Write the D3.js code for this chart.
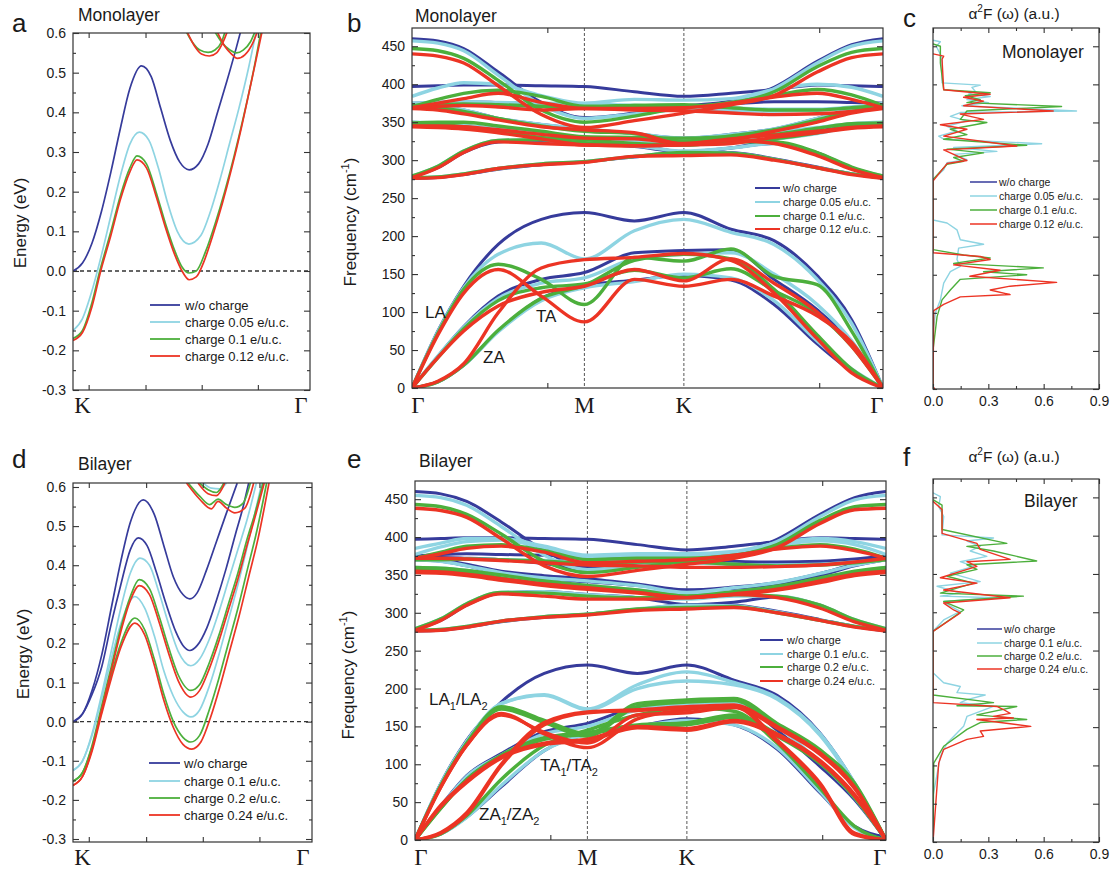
<!DOCTYPE html>
<html>
<head>
<meta charset="utf-8">
<title>Bands, phonons and a2F, monolayer and bilayer</title>
<script src="https://cdn.jsdelivr.net/npm/d3@7/dist/d3.min.js"></script>
<style>
  body { margin: 0; background: #fff; }
  text { font-family: Arial, "Liberation Sans", Helvetica, sans-serif; fill: #1a1a1a; }
  .hs { font-family: "Liberation Serif", "Times New Roman", serif; }
</style>
</head>
<body>
<svg id="fig" width="1118" height="872"></svg>
<script>

////////////////////////////////////////////////////////
// colours and legend texts
////////////////////////////////////////////////////////

var cBlue = "#363b9b", cCyan = "#8ed4e2", cGreen = "#4caf3c", cRed = "#ec3424";
var colores = [cBlue, cCyan, cGreen, cRed];

var legendMono = ["w/o charge", "charge 0.05 e/u.c.", "charge 0.1 e/u.c.", "charge 0.12 e/u.c."];
var legendBi   = ["w/o charge", "charge 0.1 e/u.c.", "charge 0.2 e/u.c.", "charge 0.24 e/u.c."];

////////////////////////////////////////////////////////
// ticks
////////////////////////////////////////////////////////

var energyTicks = [-0.3, -0.2, -0.1, 0.0, 0.1, 0.2, 0.3, 0.4, 0.5, 0.6];
var energyMinor = [-0.25, -0.15, -0.05, 0.05, 0.15, 0.25, 0.35, 0.45, 0.55];
var kTicks      = [0.066, 0.306, 0.543, 0.78];
var freqTicks   = [0, 50, 100, 150, 200, 250, 300, 350, 400, 450];
var freqMinor   = [25, 75, 125, 175, 225, 275, 325, 375, 425];
var a2fTicks    = [0, 0.3, 0.6, 0.9];
var a2fMinor    = [0.15, 0.45, 0.75];
var pathTicks   = [0.785, 2.362];
var symQ        = [0, 1, 1.577, 2.732];
var symLab      = ["\u0393", "M", "K", "\u0393"];

////////////////////////////////////////////////////////
// panel a: monolayer bands [k fraction K->Gamma, energy eV]
////////////////////////////////////////////////////////

var monoBandBlue = [[0,0],[0.04,0.02],[0.08,0.07],[0.12,0.15],[0.16,0.25],[0.2,0.36],[0.24,0.46],[0.289,0.517],
  [0.33,0.49],[0.37,0.41],[0.41,0.33],[0.45,0.275],[0.49,0.255],[0.53,0.27],[0.57,0.32],[0.61,0.4],[0.65,0.48],[0.69,0.565],[0.71,0.61]];
var monoBandCyan = [[0,-0.15],[0.04,-0.12],[0.08,-0.05],[0.12,0.04],[0.16,0.14],[0.2,0.24],[0.24,0.32],[0.28,0.35],
  [0.32,0.33],[0.36,0.26],[0.4,0.17],[0.44,0.1],[0.489,0.068],[0.54,0.09],[0.58,0.15],[0.62,0.23],[0.66,0.32],[0.7,0.41],[0.74,0.51],[0.775,0.61]];
var monoBandGreen = [[0,-0.17],[0.04,-0.15],[0.08,-0.08],[0.113,0],[0.16,0.1],[0.2,0.19],[0.24,0.26],[0.27,0.29],
  [0.31,0.27],[0.35,0.2],[0.39,0.12],[0.43,0.05],[0.46,0.01],[0.49,-0.005],[0.52,0.0],[0.56,0.05],[0.6,0.12],[0.64,0.2],[0.68,0.29],[0.72,0.39],[0.76,0.5],[0.795,0.61]];
var monoBandRed = [[0,-0.175],[0.04,-0.155],[0.08,-0.09],[0.117,0],[0.16,0.09],[0.2,0.18],[0.24,0.25],[0.27,0.28],
  [0.31,0.26],[0.35,0.19],[0.39,0.11],[0.43,0.04],[0.46,0.0],[0.49,-0.022],[0.52,-0.015],[0.55,0.02],[0.59,0.09],[0.63,0.17],[0.67,0.26],[0.71,0.36],[0.75,0.47],[0.8,0.61]];
var monoUpGreen1 = [[0.472,0.61],[0.507,0.574],[0.535,0.557],[0.57,0.551],[0.599,0.557],[0.627,0.578],[0.645,0.61]];
var monoUpRed1   = [[0.476,0.61],[0.514,0.566],[0.542,0.547],[0.575,0.542],[0.606,0.55],[0.634,0.578],[0.655,0.61]];
var monoUpGreen2 = [[0.592,0.61],[0.631,0.574],[0.662,0.557],[0.69,0.55],[0.718,0.557],[0.749,0.578],[0.772,0.61]];
var monoUpRed2   = [[0.603,0.61],[0.641,0.566],[0.669,0.547],[0.693,0.536],[0.725,0.545],[0.758,0.574],[0.782,0.61]];

////////////////////////////////////////////////////////
// panel d: bilayer bands
////////////////////////////////////////////////////////

var biBandBlue1 = [[0,0],[0.04,0.02],[0.08,0.08],[0.12,0.17],[0.16,0.29],[0.2,0.41],[0.24,0.51],[0.294,0.567],
  [0.34,0.53],[0.38,0.45],[0.42,0.37],[0.46,0.325],[0.489,0.314],[0.52,0.33],[0.56,0.39],[0.6,0.46],[0.64,0.53],[0.687,0.61]];
var biBandBlue2 = [[0,0],[0.04,0.02],[0.08,0.07],[0.12,0.14],[0.16,0.25],[0.2,0.35],[0.24,0.44],[0.273,0.47],
  [0.31,0.45],[0.35,0.38],[0.39,0.3],[0.43,0.23],[0.46,0.195],[0.489,0.182],[0.52,0.195],[0.56,0.24],[0.6,0.31],[0.64,0.39],[0.68,0.48],[0.71,0.545],[0.735,0.61]];
var biBandCyan1 = [[0,-0.125],[0.04,-0.1],[0.08,-0.03],[0.12,0.07],[0.16,0.18],[0.2,0.29],[0.24,0.38],[0.28,0.418],
  [0.32,0.4],[0.36,0.33],[0.4,0.25],[0.44,0.18],[0.493,0.143],[0.53,0.16],[0.57,0.21],[0.61,0.28],[0.65,0.36],[0.69,0.44],[0.73,0.52],[0.767,0.61]];
var biBandCyan2 = [[0,-0.125],[0.04,-0.1],[0.08,-0.035],[0.12,0.06],[0.16,0.16],[0.2,0.25],[0.259,0.32],[0.3,0.29],
  [0.34,0.22],[0.38,0.13],[0.42,0.065],[0.46,0.025],[0.493,0.012],[0.53,0.03],[0.57,0.09],[0.61,0.17],[0.65,0.26],[0.69,0.35],[0.73,0.45],[0.79,0.61]];
var biBandGreen1 = [[0,-0.152],[0.04,-0.13],[0.08,-0.06],[0.12,0.04],[0.16,0.14],[0.2,0.24],[0.24,0.32],[0.277,0.363],
  [0.32,0.34],[0.36,0.27],[0.4,0.19],[0.44,0.12],[0.493,0.08],[0.53,0.095],[0.57,0.15],[0.61,0.22],[0.65,0.3],[0.69,0.38],[0.73,0.47],[0.76,0.53],[0.795,0.61]];
var biBandGreen2 = [[0,-0.152],[0.04,-0.13],[0.08,-0.065],[0.12,0.03],[0.16,0.12],[0.2,0.2],[0.259,0.265],[0.3,0.235],
  [0.34,0.16],[0.38,0.07],[0.42,0.0],[0.46,-0.04],[0.493,-0.052],[0.53,-0.035],[0.57,0.03],[0.61,0.11],[0.65,0.2],[0.69,0.29],[0.73,0.39],[0.77,0.49],[0.81,0.61]];
var biBandRed1 = [[0,-0.163],[0.04,-0.14],[0.08,-0.07],[0.12,0.03],[0.16,0.13],[0.2,0.23],[0.24,0.31],[0.277,0.348],
  [0.32,0.325],[0.36,0.255],[0.4,0.175],[0.44,0.105],[0.493,0.063],[0.53,0.08],[0.57,0.135],[0.61,0.205],[0.65,0.285],[0.69,0.365],[0.73,0.455],[0.765,0.53],[0.8,0.61]];
var biBandRed2 = [[0,-0.163],[0.04,-0.14],[0.08,-0.075],[0.12,0.02],[0.16,0.11],[0.2,0.19],[0.259,0.252],[0.3,0.222],
  [0.34,0.145],[0.38,0.055],[0.42,-0.015],[0.46,-0.058],[0.497,-0.07],[0.535,-0.052],[0.575,0.01],[0.615,0.09],[0.655,0.18],[0.695,0.27],[0.735,0.37],[0.775,0.47],[0.82,0.61]];
var biUpCyan   = [[0.545,0.61],[0.579,0.597],[0.614,0.595],[0.642,0.61]];
var biUpGreenS = [[0.53,0.61],[0.565,0.593],[0.6,0.586],[0.631,0.61]];
var biUpRedS   = [[0.523,0.61],[0.565,0.583],[0.6,0.578],[0.635,0.61]];
var biUpGreen  = [[0.482,0.61],[0.531,0.576],[0.572,0.555],[0.607,0.569],[0.642,0.555],[0.677,0.548],[0.712,0.559],[0.742,0.61]];
var biUpRed    = [[0.475,0.61],[0.531,0.568],[0.579,0.544],[0.607,0.563],[0.642,0.546],[0.677,0.534],[0.719,0.546],[0.756,0.61]];

////////////////////////////////////////////////////////
// panels b, e: phonon branches (cm-1) on the path G-M-K-G
////////////////////////////////////////////////////////

var QGRID = [0, 0.15, 0.3, 0.5, 0.75, 1.0, 1.29, 1.577, 1.85, 2.1, 2.35, 2.55, 2.732];

var monoBlue = [
  [0, 75, 134, 189, 222, 231, 220, 231, 209, 194, 148, 90, 0],
  [0, 42, 81, 121, 143, 152, 178, 181, 182, 143, 103, 60, 0],
  [0, 8, 30, 75, 118, 135, 142, 148, 142, 110, 58, 22, 0],
  [276, 277, 281, 288, 294, 298, 304, 311, 310, 302, 291, 282, 276],
  [278, 290, 310, 324, 326, 322, 318, 311, 316, 322, 310, 290, 278],
  [350, 349, 346, 341, 334, 327, 321, 311, 316, 327, 338, 346, 350],
  [374, 371, 366, 355, 347, 341, 335, 329, 334, 341, 355, 367, 374],
  [372, 373, 373, 372, 371, 369, 368, 366, 365, 365, 366, 369, 372],
  [375, 376, 377, 376, 374, 372, 370, 371, 374, 377, 377, 376, 375],
  [397, 398, 399, 399, 398, 397, 390, 384, 388, 393, 399, 398, 397],
  [460, 457, 447, 416, 376, 356, 362, 371, 378, 396, 430, 452, 460]
];
var monoCyan = [
  [0, 74, 132, 176, 191, 170, 207, 222, 205, 189, 143, 85, 0],
  [0, 42, 80, 118, 138, 145, 170, 176, 178, 150, 110, 62, 0],
  [0, 8, 30, 74, 115, 132, 140, 150, 145, 115, 62, 25, 0],
  [277, 278, 282, 289, 295, 298, 305, 310, 309, 301, 290, 282, 277],
  [279, 292, 312, 326, 327, 323, 319, 312, 316, 322, 308, 290, 279],
  [348, 347, 344, 338, 330, 325, 325, 324, 326, 328, 335, 344, 348],
  [350, 349, 346, 341, 334, 330, 328, 326, 330, 337, 343, 348, 350],
  [374, 371, 366, 355, 347, 341, 335, 329, 334, 341, 355, 367, 374],
  [372, 373, 373, 372, 371, 369, 368, 366, 365, 365, 366, 369, 372],
  [375, 376, 377, 376, 375, 374, 372, 371, 369, 367, 367, 370, 375],
  [384, 395, 402, 400, 385, 375, 380, 379, 381, 393, 400, 396, 384],
  [457, 454, 444, 412, 373, 355, 361, 368, 376, 394, 428, 450, 457]
];
var monoGreen = [
  [0, 72, 130, 163, 143, 110, 172, 167, 183, 147, 136, 75, 0],
  [0, 40, 78, 115, 132, 137, 155, 145, 157, 128, 98, 55, 0],
  [0, 8, 30, 76, 118, 135, 168, 176, 170, 130, 70, 25, 0],
  [277, 278, 282, 289, 295, 298, 305, 310, 309, 301, 290, 282, 277],
  [279, 292, 312, 326, 327, 323, 320, 320, 324, 324, 310, 291, 279],
  [348, 347, 344, 338, 330, 327, 322, 320, 324, 328, 336, 345, 348],
  [349, 350, 350, 345, 338, 331, 330, 329, 331, 334, 342, 348, 349],
  [370, 369, 364, 355, 345, 338, 335, 325, 332, 340, 353, 364, 370],
  [372, 373, 374, 373, 371, 369, 372, 373, 369, 366, 366, 369, 372],
  [370, 380, 388, 392, 384, 371, 372, 370, 376, 385, 393, 386, 372],
  [447, 444, 434, 405, 366, 350, 358, 370, 375, 390, 423, 442, 447]
];
var monoRed = [
  [0, 70, 125, 156, 121, 87, 143, 134, 143, 121, 95, 60, 0],
  [0, 40, 75, 108, 126, 134, 156, 141, 170, 138, 100, 55, 0],
  [0, 9, 32, 99, 158, 169, 172, 177, 168, 125, 65, 20, 0],
  [276, 277, 281, 289, 294, 297, 305, 306, 307, 300, 290, 281, 276],
  [277, 290, 310, 324, 322, 320, 319, 321, 326, 322, 306, 288, 277],
  [344, 343, 341, 336, 328, 320, 319, 320, 322, 330, 336, 342, 344],
  [345, 345, 344, 340, 334, 329, 328, 322, 328, 333, 338, 343, 345],
  [368, 366, 361, 353, 344, 340, 336, 321, 327, 338, 350, 362, 368],
  [369, 371, 372, 370, 366, 368, 366, 365, 362, 360, 361, 364, 369],
  [369, 375, 381, 388, 376, 368, 368, 369, 375, 383, 388, 380, 369],
  [440, 437, 428, 398, 360, 343, 352, 362, 373, 385, 416, 435, 440]
];

var biBlue = [
  [0, 75, 132, 182, 220, 231, 220, 231, 211, 191, 141, 75, 0],
  [0, 45, 85, 114, 143, 154, 176, 183, 185, 145, 97, 53, 0],
  [0, 8, 30, 70, 118, 140, 150, 160, 152, 120, 62, 18, 4],
  [276, 277, 281, 288, 294, 298, 304, 311, 310, 302, 291, 282, 276],
  [278, 290, 310, 326, 328, 324, 320, 311, 314, 321, 310, 290, 278],
  [370, 368, 362, 352, 344, 341, 336, 330, 332, 337, 349, 362, 370],
  [372, 370, 364, 355, 349, 345, 338, 330, 334, 340, 352, 364, 372],
  [373, 373, 372, 370, 365, 357, 362, 368, 366, 366, 367, 370, 373],
  [375, 377, 378, 377, 376, 375, 372, 370, 368, 367, 368, 371, 375],
  [397, 398, 399, 399, 398, 397, 390, 383, 388, 394, 399, 398, 397],
  [460, 457, 447, 420, 382, 360, 363, 368, 377, 397, 430, 452, 460]
];
var biCyan = [
  [0, 74, 130, 180, 192, 173, 205, 222, 208, 188, 140, 75, 0],
  [0, 74, 130, 180, 191, 172, 200, 210, 205, 186, 138, 73, 0],
  [0, 44, 84, 112, 140, 150, 172, 180, 182, 150, 102, 56, 0],
  [0, 8, 30, 72, 118, 140, 150, 158, 152, 122, 64, 16, 0],
  [277, 278, 282, 289, 295, 298, 305, 310, 309, 301, 290, 282, 277],
  [279, 292, 312, 327, 328, 324, 320, 318, 322, 322, 310, 291, 279],
  [360, 359, 356, 350, 342, 336, 330, 325, 328, 334, 345, 354, 360],
  [370, 368, 362, 353, 346, 342, 336, 327, 333, 340, 352, 363, 370],
  [370, 371, 371, 370, 369, 367, 367, 366, 364, 363, 364, 367, 370],
  [377, 387, 394, 396, 386, 374, 376, 376, 379, 389, 395, 390, 377],
  [385, 392, 398, 398, 388, 376, 378, 378, 381, 392, 398, 394, 385],
  [455, 452, 442, 414, 376, 357, 362, 370, 378, 394, 427, 449, 455]
];
var biGreen = [
  [0, 72, 128, 176, 158, 140, 180, 185, 187, 154, 119, 75, 0],
  [0, 72, 127, 173, 155, 137, 176, 182, 184, 150, 115, 72, 0],
  [0, 42, 80, 112, 135, 142, 152, 155, 165, 140, 104, 58, 0],
  [0, 42, 80, 110, 133, 140, 150, 152, 162, 137, 101, 56, 0],
  [0, 8, 32, 80, 125, 145, 165, 175, 170, 128, 68, 18, 0],
  [277, 278, 282, 289, 295, 298, 305, 307, 308, 300, 290, 282, 277],
  [279, 292, 312, 327, 326, 322, 320, 320, 324, 322, 310, 291, 279],
  [358, 357, 353, 346, 338, 334, 329, 322, 326, 332, 343, 353, 358],
  [360, 359, 356, 350, 342, 336, 330, 322, 328, 335, 346, 355, 360],
  [370, 370, 371, 370, 368, 366, 367, 367, 364, 362, 363, 366, 370],
  [372, 380, 388, 390, 382, 370, 372, 372, 376, 385, 390, 384, 372],
  [443, 440, 430, 404, 368, 353, 360, 368, 375, 390, 422, 440, 443]
];
var biRed = [
  [0, 70, 125, 167, 140, 122, 160, 172, 178, 150, 115, 70, 0],
  [0, 70, 125, 165, 142, 128, 165, 168, 175, 148, 113, 68, 0],
  [0, 46, 78, 110, 128, 133, 150, 147, 158, 140, 105, 60, 0],
  [0, 44, 76, 108, 126, 131, 148, 145, 156, 138, 103, 58, 0],
  [0, 10, 36, 100, 155, 169, 172, 176, 178, 132, 75, 9, 0],
  [0, 9, 34, 98, 152, 168, 171, 174, 176, 130, 73, 7, 0],
  [276, 277, 281, 289, 294, 297, 303, 305, 307, 300, 290, 281, 276],
  [277, 290, 310, 325, 322, 318, 318, 320, 324, 320, 306, 288, 277],
  [353, 352, 349, 343, 336, 331, 326, 320, 324, 330, 340, 349, 353],
  [355, 354, 351, 345, 338, 333, 327, 320, 325, 331, 342, 351, 355],
  [372, 372, 371, 369, 366, 363, 362, 360, 360, 361, 363, 367, 372],
  [372, 378, 385, 388, 380, 366, 368, 370, 376, 384, 388, 382, 372],
  [438, 435, 426, 398, 362, 348, 356, 364, 372, 386, 418, 436, 438]
];

////////////////////////////////////////////////////////
// panels c, f: a2F spectra [frequency cm-1, a2F]
////////////////////////////////////////////////////////

var monoCyanSpec = [[458,0],[456,0.04],[450,0.018],[435,0.049],[402,0.049],[399,0.256],[396,0.211],[391,0.229],[387,0.193],
  [384,0.31],[380,0.184],[376,0.301],[372,0.157],[365,0.778],[363,0.148],[358,0.094],[352,0.184],[345,0.076],[339,0.13],
  [332,0.031],[328,0.058],[322,0.589],[317,0.112],[312,0.346],[308,0.112],[301,0.184],[297,0.076],[288,0.058],[275,0],
  [222,0],[218,0.076],[209,0.13],[196,0.148],[190,0.274],[185,0.139],[170,0.13],[161,0.148],[154,0.094],[139,0.058],
  [117,0.04],[100,0.013],[73,0],[0,0]];
var monoGreenSpec = [[453,0],[450,0.04],[428,0.04],[393,0.058],[389,0.31],[385,0.175],[380,0.256],[376,0.184],[371,0.697],
  [365,0.184],[354,0.148],[350,0.292],[341,0.094],[334,0.184],[328,0.058],[320,0.508],[315,0.076],[310,0.274],[304,0.112],
  [299,0.166],[295,0.076],[275,0],[183,0],[176,0.166],[172,0.31],[165,0.112],[159,0.598],[154,0.274],[150,0.508],
  [144,0.148],[130,0.094],[117,0.049],[95,0.022],[51,0],[0,0]];
var monoRedSpec = [[440,0],[437,0.058],[433,0.049],[393,0.058],[387,0.31],[383,0.166],[378,0.274],[372,0.166],[365,0.652],
  [361,0.148],[354,0.274],[347,0.04],[341,0.184],[332,0.058],[319,0.454],[314,0.058],[306,0.13],[300,0.184],[296,0.076],
  [273,0],[179,0],[174,0.256],[170,0.31],[163,0.112],[156,0.364],[148,0.2],[140,0.67],[135,0.418],[130,0.31],[124,0.418],
  [121,0.148],[111,0.058],[103,0.004],[3,0],[0,0.01]];

var biCyanSpec = [[456,0],[451,0.04],[438,0.031],[425,0.058],[401,0.049],[397,0.328],[393,0.184],[386,0.256],[380,0.202],
  [373,0.292],[366,0.148],[360,0.22],[351,0.094],[340,0.256],[334,0.022],[325,0.148],[321,0.04],[319,0.346],[314,0.058],
  [308,0.094],[301,0.148],[290,0.058],[275,0],[221,0],[208,0.058],[203,0.148],[195,0.13],[192,0.283],[186,0.184],
  [182,0.148],[177,0.328],[164,0.184],[151,0.166],[129,0.076],[112,0.04],[60,0],[0,0]];
var biGreenSpec = [[447,0],[440,0.049],[408,0.049],[390,0.4],[386,0.184],[380,0.328],[367,0.562],[362,0.184],[356,0.238],
  [347,0.076],[338,0.22],[325,0.04],[321,0.49],[314,0.058],[303,0.166],[275,0],[192,0],[182,0.328],[178,0.13],[177,0.454],
  [166,0.238],[160,0.508],[156,0.256],[147,0.184],[125,0.058],[103,0.004],[0,0]];
var biRedSpec = [[445,0],[434,0.049],[403,0.049],[390,0.238],[382,0.256],[369,0.418],[366,0.184],[360,0.238],[345,0.04],
  [338,0.238],[329,0.058],[319,0.418],[312,0.058],[303,0.112],[299,0.148],[275,0],[182,0],[177,0.346],[173,0.382],
  [168,0.418],[164,0.328],[162,0.436],[160,0.238],[151,0.53],[145,0.256],[138,0.274],[134,0.184],[121,0.058],[103,0.031],[0,0]];

////////////////////////////////////////////////////////
// helpers
////////////////////////////////////////////////////////

var svg = d3.select("#fig");
var defs = svg.append("defs");
var FONT = "Arial, 'Liberation Sans', Helvetica, sans-serif";

// plain hyphen for negative numbers, like the original
var fmt1 = function(d) { return d.toFixed(1); };
var fmt0 = function(d) { return String(d); };

function recorte(nombre, x0, y0, x1, y1) {
    defs.append("clipPath").attr("id", nombre)
        .append("rect").attr("x", x0).attr("y", y0).attr("width", x1 - x0).attr("height", y1 - y0);
    return svg.append("g").attr("clip-path", "url(#" + nombre + ")");
}

function marco(x0, y0, x1, y1) {
    svg.append("rect").attr("x", x0).attr("y", y0).attr("width", x1 - x0).attr("height", y1 - y0)
       .attr("fill", "none").attr("stroke", "#333").attr("stroke-width", 1.2);
}

// ticks pointing into the frame; labels only when fmt is given
function eje(gen, pos, valores, largo, fmt, size) {
    var g = svg.append("g")
        .attr("transform", pos)
        .call(gen.tickValues(valores).tickSizeInner(-largo).tickSizeOuter(0)
                 .tickPadding(7).tickFormat(fmt ? fmt : ""));
    g.select(".domain").remove();
    g.selectAll("line").attr("stroke", "#333").attr("stroke-width", 1.1);
    g.attr("font-family", FONT).attr("font-size", size || 14);
    g.selectAll("text").attr("fill", "#1a1a1a");
    return g;
}

function texto(x, y, s, size, anchor) {
    return svg.append("text").attr("x", x).attr("y", y).attr("font-size", size)
              .attr("text-anchor", anchor || "start").text(s);
}

function leyenda(nombres, filas, lx0, lx1, tx, size, grosor) {
    nombres.forEach(function(n, i) {
        svg.append("line").attr("x1", lx0).attr("x2", lx1).attr("y1", filas[i]).attr("y2", filas[i])
           .attr("stroke", colores[i]).attr("stroke-width", grosor);
        svg.append("text").attr("x", tx).attr("y", filas[i]).attr("dy", "0.35em")
           .attr("font-size", size).text(n);
    });
}

function etiquetaVertical(x, y, partes, size) {
    var t = svg.append("text").attr("transform", "translate(" + x + "," + y + ") rotate(-90)")
               .attr("text-anchor", "middle").attr("font-size", size);
    partes(t);
}

////////////////////////////////////////////////////////
// band panels (a, d)
////////////////////////////////////////////////////////

function panelBandas(cfg) {
    var x = d3.scaleLinear().domain([0, 1]).range([cfg.x0, cfg.x1]);
    var y = d3.scaleLinear().domain([-0.3, 0.6]).range([cfg.yb, cfg.yt]);
    var g = recorte("clip_" + cfg.id, cfg.x0, cfg.ft, cfg.x1, cfg.fb);

    g.append("line").attr("x1", cfg.x0).attr("x2", cfg.x1).attr("y1", y(0)).attr("y2", y(0))
     .attr("stroke", "#333").attr("stroke-width", 1.4).attr("stroke-dasharray", "4,3");

    var linea = d3.line().x(function(d) { return x(d[0]); })
                         .y(function(d) { return y(d[1]); })
                         .curve(d3.curveMonotoneX);
    cfg.curvas.forEach(function(grupo, k) {
        grupo.forEach(function(c) {
            g.append("path").attr("d", linea(c)).attr("fill", "none")
             .attr("stroke", colores[k]).attr("stroke-width", 1.7);
        });
    });

    marco(cfg.x0, cfg.ft, cfg.x1, cfg.fb);
    eje(d3.axisLeft(y), "translate(" + cfg.x0 + ",0)", energyTicks, 6, fmt1);
    eje(d3.axisLeft(y), "translate(" + cfg.x0 + ",0)", energyMinor, 3);
    eje(d3.axisRight(y), "translate(" + cfg.x1 + ",0)", energyTicks, 6);
    eje(d3.axisRight(y), "translate(" + cfg.x1 + ",0)", energyMinor, 3);
    eje(d3.axisBottom(x), "translate(0," + cfg.fb + ")", kTicks, 5);
    eje(d3.axisTop(x), "translate(0," + cfg.ft + ")", kTicks, 5);

    texto(x(0.04), cfg.fb + 23, "K", 23, "middle").attr("class", "hs");
    texto(x(0.962), cfg.fb + 23, "\u0393", 23, "middle").attr("class", "hs");
}

////////////////////////////////////////////////////////
// phonon panels (b, e)
////////////////////////////////////////////////////////

function panelFonones(cfg) {
    var x = d3.scaleLinear().domain([0, 2.732]).range([cfg.x0, cfg.x1]);
    var y = d3.scaleLinear().domain([0, 474]).range([cfg.y1, cfg.y0]);
    var g = recorte("clip_" + cfg.id, cfg.x0, cfg.y0, cfg.x1, cfg.y1);

    [1, 1.577].forEach(function(q) {
        g.append("line").attr("x1", x(q)).attr("x2", x(q)).attr("y1", cfg.y0).attr("y2", cfg.y1)
         .attr("stroke", "#444").attr("stroke-width", 0.9).attr("stroke-dasharray", "3,2");
    });

    var linea = d3.line().x(function(d, i) { return x(QGRID[i]); })
                         .y(function(d) { return y(d); })
                         .curve(d3.curveMonotoneX);
    cfg.ramas.forEach(function(grupo, k) {
        grupo.forEach(function(r) {
            g.append("path").attr("d", linea(r)).attr("fill", "none")
             .attr("stroke", colores[k]).attr("stroke-width", k === 0 ? 3 : 3.4);
        });
    });

    marco(cfg.x0, cfg.y0, cfg.x1, cfg.y1);
    eje(d3.axisLeft(y), "translate(" + cfg.x0 + ",0)", freqTicks, 6, fmt0);
    eje(d3.axisLeft(y), "translate(" + cfg.x0 + ",0)", freqMinor, 3);
    eje(d3.axisRight(y), "translate(" + cfg.x1 + ",0)", freqTicks, 6);
    eje(d3.axisRight(y), "translate(" + cfg.x1 + ",0)", freqMinor, 3);
    eje(d3.axisBottom(x), "translate(0," + cfg.y1 + ")", pathTicks, 5);
    eje(d3.axisTop(x), "translate(0," + cfg.y0 + ")", pathTicks, 5);

    symQ.forEach(function(q, i) {
        var xx = x(q);
        if (i === 0) xx += 6;
        if (i === symQ.length - 1) xx -= 6;
        texto(xx, cfg.y1 + 25, symLab[i], 23, "middle").attr("class", "hs");
    });
}

////////////////////////////////////////////////////////
// a2F panels (c, f)
////////////////////////////////////////////////////////

function panelA2F(cfg) {
    var x = d3.scaleLinear().domain([0, 0.9]).range([cfg.x0, cfg.x1]);
    var y = d3.scaleLinear().domain([0, 474]).range([cfg.y1, cfg.y0]);
    var g = recorte("clip_" + cfg.id, cfg.x0, cfg.y0, cfg.x1, cfg.y1);

    var linea = d3.line().x(function(d) { return x(d[1]); })
                         .y(function(d) { return y(d[0]); });
    cfg.espectros.forEach(function(s, k) {
        g.append("path").attr("d", linea(s)).attr("fill", "none")
         .attr("stroke", colores[k + 1]).attr("stroke-width", 1.4).attr("stroke-linejoin", "round");
    });

    marco(cfg.x0, cfg.y0, cfg.x1, cfg.y1);
    eje(d3.axisLeft(y), "translate(" + cfg.x0 + ",0)", freqTicks, 4);
    eje(d3.axisRight(y), "translate(" + cfg.x1 + ",0)", freqTicks, 6);
    eje(d3.axisBottom(x), "translate(0," + cfg.y1 + ")", a2fTicks, 5, fmt1);
    eje(d3.axisBottom(x), "translate(0," + cfg.y1 + ")", a2fMinor, 3);
    eje(d3.axisTop(x), "translate(0," + cfg.y0 + ")", a2fTicks, 5);
    eje(d3.axisTop(x), "translate(0," + cfg.y0 + ")", a2fMinor, 3);

    var t = svg.append("text").attr("x", (cfg.x0 + cfg.x1) / 2 - 2).attr("y", cfg.tituloY)
               .attr("text-anchor", "middle").attr("font-size", 15.5);
    t.append("tspan").text("\u03b1");
    t.append("tspan").attr("dy", -7).attr("font-size", 10).text("2");
    t.append("tspan").attr("dy", 7).text("F (\u03c9) (a.u.)");
}

////////////////////////////////////////////////////////
// draw
////////////////////////////////////////////////////////

panelBandas({ id: "a", x0: 73, x1: 310, yt: 33, yb: 390, ft: 33, fb: 390,
              curvas: [[monoBandBlue], [monoBandCyan], [monoBandGreen, monoUpGreen1, monoUpGreen2],
                       [monoBandRed, monoUpRed1, monoUpRed2]] });
panelBandas({ id: "d", x0: 73, x1: 312, yt: 487, yb: 839, ft: 483, fb: 842,
              curvas: [[biBandBlue1, biBandBlue2], [biBandCyan1, biBandCyan2, biUpCyan],
                       [biBandGreen1, biBandGreen2, biUpGreen, biUpGreenS],
                       [biBandRed1, biBandRed2, biUpRed, biUpRedS]] });

panelFonones({ id: "b", x0: 412, x1: 883, y0: 28, y1: 388, ramas: [monoBlue, monoCyan, monoGreen, monoRed] });
panelFonones({ id: "e", x0: 415, x1: 886, y0: 481, y1: 840, ramas: [biBlue, biCyan, biGreen, biRed] });

panelA2F({ id: "c", x0: 933, x1: 1099, y0: 28, y1: 389, tituloY: 19,
           espectros: [monoCyanSpec, monoGreenSpec, monoRedSpec] });
panelA2F({ id: "f", x0: 933, x1: 1099, y0: 479, y1: 842, tituloY: 462,
           espectros: [biCyanSpec, biGreenSpec, biRedSpec] });

// legends
leyenda(legendMono, [305, 322, 339, 356], 150, 180, 185, 13, 1.8);
leyenda(legendBi,   [763, 781, 798, 815], 149, 180, 184, 13, 1.8);
leyenda(legendMono, [188, 202, 216, 229], 755, 780, 783, 11, 2);
leyenda(legendBi,   [640, 654, 667, 681], 760, 783, 787, 11, 2);
leyenda(legendMono, [182, 196, 210, 224], 970, 997, 999, 10.5, 1.5);
leyenda(legendBi,   [629, 643, 656, 669], 977, 1002, 1004, 10.5, 1.5);

// panel letters and titles
texto(12, 32, "a", 26);
texto(347, 32, "b", 26);
texto(903, 27, "c", 26);
texto(12, 468, "d", 26);
texto(347, 468, "e", 26);
texto(903, 466, "f", 26);

texto(78, 21, "Monolayer", 17.5);
texto(415, 22, "Monolayer", 17.5);
texto(1002, 58, "Monolayer", 17.5);
texto(78, 470, "Bilayer", 17.5);
texto(419, 467, "Bilayer", 17.5);
texto(1024, 507, "Bilayer", 17.5);

// axis titles
etiquetaVertical(26, 223, function(t) { t.text("Energy (eV)"); }, 17);
etiquetaVertical(29, 654, function(t) { t.text("Energy (eV)"); }, 17);
[[356, 222], [354, 675]].forEach(function(p) {
    etiquetaVertical(p[0], p[1], function(t) {
        t.append("tspan").text("Frequency (cm");
        t.append("tspan").attr("dy", -7).attr("font-size", 11).text("-1");
        t.append("tspan").attr("dy", 7).text(")");
    }, 17);
});

// branch labels
texto(425, 318, "LA", 17);
texto(536, 322, "TA", 17);
texto(483, 363, "ZA", 17);

function conSub(x, y, base, size) {
    var t = svg.append("text").attr("x", x).attr("y", y).attr("font-size", size);
    t.append("tspan").text(base);
    t.append("tspan").attr("dy", 5).attr("font-size", 11).text("1");
    t.append("tspan").attr("dy", -5).text("/" + base);
    t.append("tspan").attr("dy", 5).attr("font-size", 11).text("2");
}
conSub(429, 705, "LA", 17);
conSub(540, 771, "TA", 17);
conSub(479, 820, "ZA", 17);

</script>
</body>
</html>
